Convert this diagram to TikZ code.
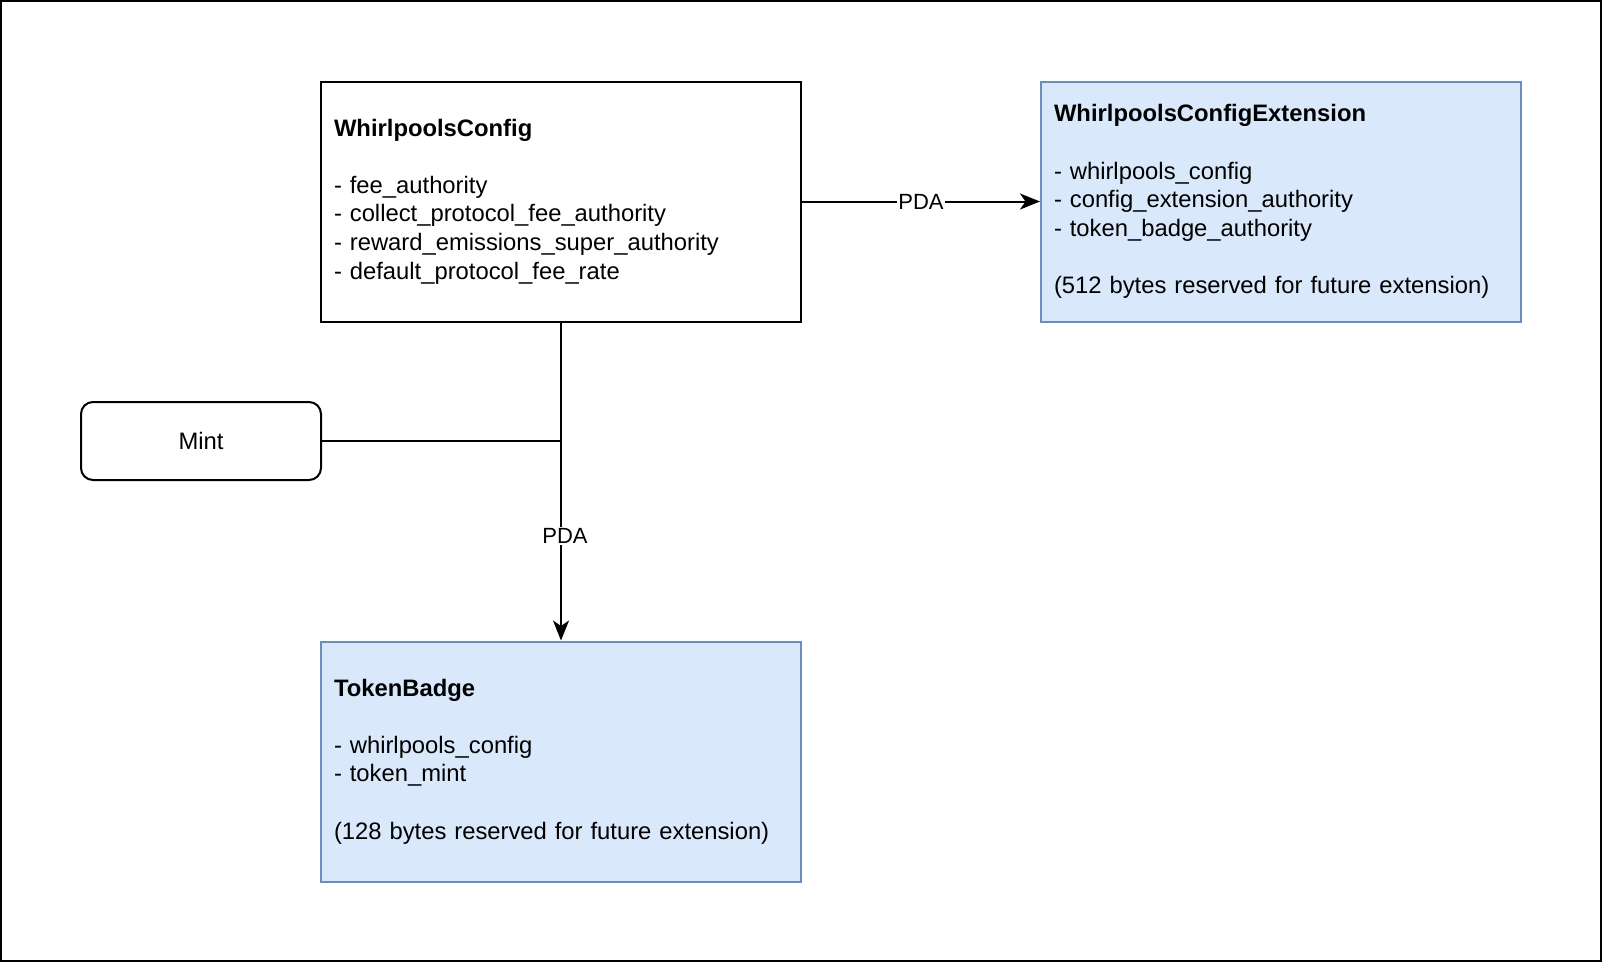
\documentclass[tikz,border=0pt]{standalone}
\usepackage{fontspec}
\setmainfont{Liberation Sans}
\usetikzlibrary{arrows.meta}
\definecolor{extfill}{HTML}{DAE8FC}
\definecolor{extdraw}{HTML}{6C8EBF}

\begin{document}
\begin{tikzpicture}[x=1pt, y=-1pt, font=\fontsize{23.8}{28.6}\selectfont,
    account/.style={draw, line width=2pt, minimum height=240pt, text width=454pt,
        inner xsep=13pt, inner ysep=0pt, align=left},
    extaccount/.style={account, fill=extfill, draw=extdraw},
    pda/.style={line width=2pt, -{Stealth[length=20pt, width=16pt, inset=5.5pt]}},
    pdalabel/.style={fill=white, inner sep=1.5pt, font=\fontsize{22}{26.4}\selectfont}]
        % frame of the whole sheet
        \useasboundingbox (0, 0) rectangle (1602, 962);
        \draw[line width=2pt] (1, 1) rectangle (1601, 961);
        % config account
        \node[account] (config) at (561, 201.5) {\textbf{WhirlpoolsConfig}\\[28.6pt]
            - fee\_authority\\
            - collect\_protocol\_fee\_authority\\
            - reward\_emissions\_super\_authority\\
            - default\_protocol\_fee\_rate};
        % config extension account
        \node[extaccount] (ext) at (1281, 201.5) {\textbf{WhirlpoolsConfigExtension}\\[28.6pt]
            - whirlpools\_config\\
            - config\_extension\_authority\\
            - token\_badge\_authority\\[28.6pt]
            (512 bytes reserved for future extension)};
        % token badge account
        \node[extaccount] (badge) at (561, 761.5) {\textbf{TokenBadge}\\[28.6pt]
            - whirlpools\_config\\
            - token\_mint\\[28.6pt]
            (128 bytes reserved for future extension)};
        % mint
        \node[draw, line width=2pt, rounded corners=12pt, minimum width=240pt,
            minimum height=78pt] (mint) at (201, 441) {Mint};
        % seeds of the PDAs
        \draw[pda] (config.east) -- node[pdalabel] {PDA} (ext.west);
        \draw[pda] (config.south) -- node[pdalabel, pos=0.67, xshift=4pt] {PDA} (badge.north);
        \draw[line width=2pt] (mint.east) -- (mint.east -| config.south);
    \end{tikzpicture}
\end{document}
